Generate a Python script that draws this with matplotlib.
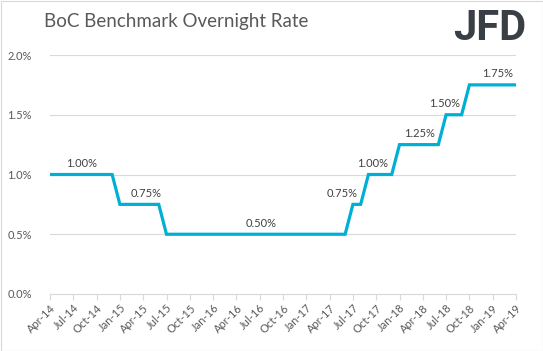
import matplotlib
matplotlib.use("Agg")
import matplotlib.pyplot as plt
from matplotlib.patches import Rectangle

months = ["Apr-14","May-14","Jun-14","Jul-14","Aug-14","Sep-14","Oct-14","Nov-14","Dec-14",
          "Jan-15","Feb-15","Mar-15","Apr-15","May-15","Jun-15","Jul-15","Aug-15","Sep-15",
          "Oct-15","Nov-15","Dec-15","Jan-16","Feb-16","Mar-16","Apr-16","May-16","Jun-16",
          "Jul-16","Aug-16","Sep-16","Oct-16","Nov-16","Dec-16","Jan-17","Feb-17","Mar-17",
          "Apr-17","May-17","Jun-17","Jul-17","Aug-17","Sep-17","Oct-17","Nov-17","Dec-17",
          "Jan-18","Feb-18","Mar-18","Apr-18","May-18","Jun-18","Jul-18","Aug-18","Sep-18",
          "Oct-18","Nov-18","Dec-18","Jan-19","Feb-19","Mar-19","Apr-19"]
rate = ([1.00]*9 + [0.75]*6 + [0.50]*24 + [0.75]*2 + [1.00]*4 + [1.25]*6 + [1.50]*3 + [1.75]*7)

label_idx = [4, 12, 27, 39, 41, 45, 51, 58]
label_text = ["1.00%", "0.75%", "0.50%", "0.75%", "1.00%", "1.25%", "1.50%", "1.75%"]
label_xpos = [4.1, 12.4, 27.2, 37.6, 41.5, 47.6, 50.8, 57.6]

W, H = 543, 351
fig = plt.figure(figsize=(W/100, H/100), dpi=100)
fig.patch.set_facecolor("white")
fig.add_artist(Rectangle((0.5/W, 0.5/H), 1-1/W, 1-1/H, transform=fig.transFigure,
                         fill=False, edgecolor="#D9D9D9", linewidth=0.8))

ax = fig.add_axes([50/W, 57/H, 466/W, 239/H])
x = list(range(len(months)))
ax.plot(x, rate, color="#00AFD6", linewidth=2.3, solid_joinstyle="miter", zorder=3)

ax.set_xlim(0, len(months)-1)
ax.set_ylim(0, 2.0)
ax.set_yticks([0, 0.5, 1.0, 1.5, 2.0])
ax.set_yticklabels(["0.0%", "0.5%", "1.0%", "1.5%", "2.0%"])
ax.set_xticks(x[::3])
ax.set_xticklabels(months[::3], rotation=45, ha="right", rotation_mode="anchor")
ax.grid(axis="y", color="#D9D9D9", linewidth=0.8)
ax.set_axisbelow(True)
for s in ["top", "right", "left"]:
    ax.spines[s].set_visible(False)
ax.spines["bottom"].set_color("#D9D9D9")
ax.tick_params(axis="y", length=0, pad=13, labelsize=8, labelcolor="#595959")
ax.tick_params(axis="x", length=4, color="#D9D9D9", direction="out", pad=2,
               labelsize=8, labelcolor="#595959")
for lab in ax.get_yticklabels() + ax.get_xticklabels():
    lab.set_fontfamily("Lato")

for i, t, xp in zip(label_idx, label_text, label_xpos):
    ax.annotate(t, (xp, rate[i]), xytext=(0, 4), textcoords="offset points",
                ha="center", va="bottom", fontsize=8, color="#404040", fontfamily="Lato")

fig.text(44/W, 1 - 22/H, "BoC Benchmark Overnight Rate", ha="left", va="center",
         fontsize=13.5, color="#595959", fontfamily="Lato")
fig.text(526/W, 1 - 28/H, "JFD", ha="right", va="center", fontsize=30,
         fontweight="bold", color="#3A3F45", fontfamily="Roboto")

fig.savefig("out.png", dpi=100, facecolor="white")
